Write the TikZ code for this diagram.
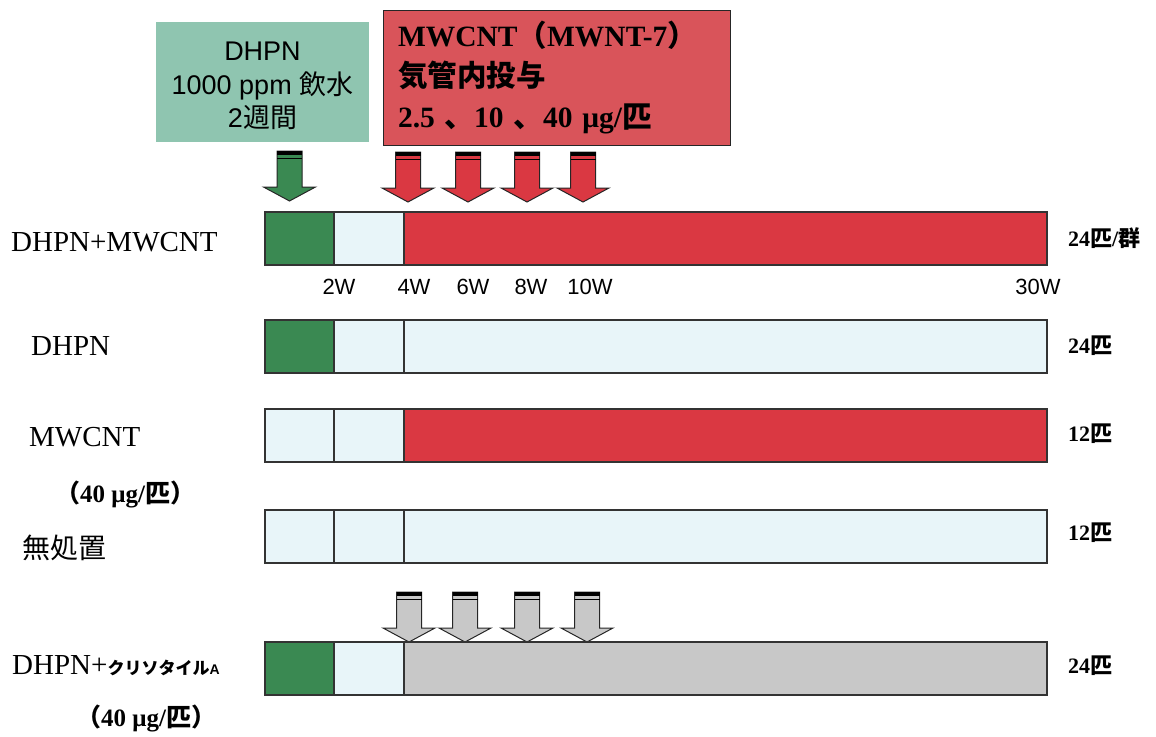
\documentclass[tikz,border=0pt]{standalone}
\usepackage{fontspec}
\setmainfont{Liberation Serif}
\setsansfont{Liberation Sans}
\newfontfamily\jp{Noto Sans CJK JP}
\definecolor{dgreen}{RGB}{58,137,82}
\definecolor{lblue}{RGB}{232,245,249}
\definecolor{tred}{RGB}{218,56,66}
\definecolor{boxred}{RGB}{217,84,90}
\definecolor{boxgreen}{RGB}{143,197,176}
\definecolor{lgray}{RGB}{200,200,200}
\tikzset{
  seg/.style={draw=black!80, line width=1.2pt},
  rowlabel/.style={anchor=west, inner sep=0pt, font=\fontsize{29}{31}\selectfont},
  nlabel/.style={anchor=west, inner sep=0pt, font=\bfseries\fontsize{22}{24}\selectfont},
  dlabel/.style={anchor=west, inner sep=0pt, font=\bfseries\fontsize{25}{27}\selectfont},
  wlabel/.style={inner sep=0pt, font=\sffamily\fontsize{22}{24}\selectfont}
}
% #1 x centre, #2 top, #3 fill
\newcommand\dosearrow[3]{%
  \filldraw[fill=#3, draw=black!85, line width=1pt]
    (#1-12.5,#2) -- (#1+12.5,#2) -- (#1+12.5,#2+36) -- (#1+26,#2+36) -- (#1,#2+50)
    -- (#1-26,#2+36) -- (#1-12.5,#2+36) -- cycle;
  \fill[black] (#1-12.5,#2) rectangle (#1+12.5,#2+3.5);
  \draw[black, line width=1pt] (#1-12.5,#2+7) -- (#1+12.5,#2+7);
}
% #1 top, #2 #3 #4 fills of the three segments
\newcommand\trackrow[4]{%
  \draw[seg, fill=#2] (265,#1) rectangle (334,#1+53);
  \draw[seg, fill=#3] (334,#1) rectangle (404,#1+53);
  \draw[seg, fill=#4] (404,#1) rectangle (1047,#1+53);
}
\begin{document}
\begin{tikzpicture}[x=1pt, y=-1pt]
  \useasboundingbox (0,0) rectangle (1156,736);
  % treatment boxes
  \node (dhpnbox) at (262.5,82) [fill=boxgreen, minimum width=213pt, minimum height=120pt,
    inner sep=0pt] {};
  \node (dhpntext) at (262.5,86) [align=center, inner sep=0pt,
    font=\sffamily\fontsize{27}{33.5}\selectfont]
    {DHPN\\1000 ppm {\jp 飲水}\\2{\jp 週間}};
  \node (mwbox) at (556.5,77.5) [fill=boxred, draw=black!85, line width=1pt,
    minimum width=347pt, minimum height=135pt, text width=317pt, inner xsep=15pt,
    align=left, font=\bfseries\fontsize{29.5}{40.5}\selectfont]
    {MWCNT{\jp （}MWNT-7{\jp ）}\\{\jp 気管内投与}\\2.5 {\jp 、}10 {\jp 、}40 μg/{\jp 匹}};
  % dosing arrows
  \dosearrow{289.5}{151}{dgreen}
  \foreach \ax in {408,468,527,583} {\dosearrow{\ax}{152}{tred}}
  \foreach \ax in {409,465,527,587} {\dosearrow{\ax}{592}{lgray}}
  % time bars
  \trackrow{212}{dgreen}{lblue}{tred}
  \trackrow{320}{dgreen}{lblue}{lblue}
  \trackrow{409}{lblue}{lblue}{tred}
  \trackrow{510}{lblue}{lblue}{lblue}
  \trackrow{642}{dgreen}{lblue}{lgray}
  % weeks
  \node[wlabel] (w2) at (339,287) {2W};
  \node[wlabel] (w4) at (414,287) {4W};
  \node[wlabel] (w6) at (473,287) {6W};
  \node[wlabel] (w8) at (531,287) {8W};
  \node[wlabel] (w10) at (590,287) {10W};
  \node[wlabel] (w30) at (1038,287) {30W};
  % groups
  \node[rowlabel] (g1) at (11,242) {DHPN+MWCNT};
  \node[rowlabel] (g2) at (31,346) {DHPN};
  \node[rowlabel] (g3) at (29,437) {MWCNT};
  \node[dlabel] (g3d) at (55,494) {{\jp （}40 μg/{\jp 匹}{\jp ）}};
  \node[rowlabel, font=\jp\fontsize{28}{30}\selectfont] (g4) at (22,548) {無処置};
  \node[rowlabel] (g5) at (12,666) {DHPN+{\jp\bfseries\fontsize{17}{20}\selectfont クリソタイル}{\sffamily\bfseries\fontsize{14}{16}\selectfont A}};
  \node[dlabel] (g5d) at (76,718) {{\jp （}40 μg/{\jp 匹}{\jp ）}};
  % animals per group
  \node[nlabel] (n1) at (1068,238) {24{\jp 匹}/{\jp 群}};
  \node[nlabel] (n2) at (1068,346) {24{\jp 匹}};
  \node[nlabel] (n3) at (1068,434) {12{\jp 匹}};
  \node[nlabel] (n4) at (1068,533) {12{\jp 匹}};
  \node[nlabel] (n5) at (1068,666) {24{\jp 匹}};
\end{tikzpicture}
\end{document}
